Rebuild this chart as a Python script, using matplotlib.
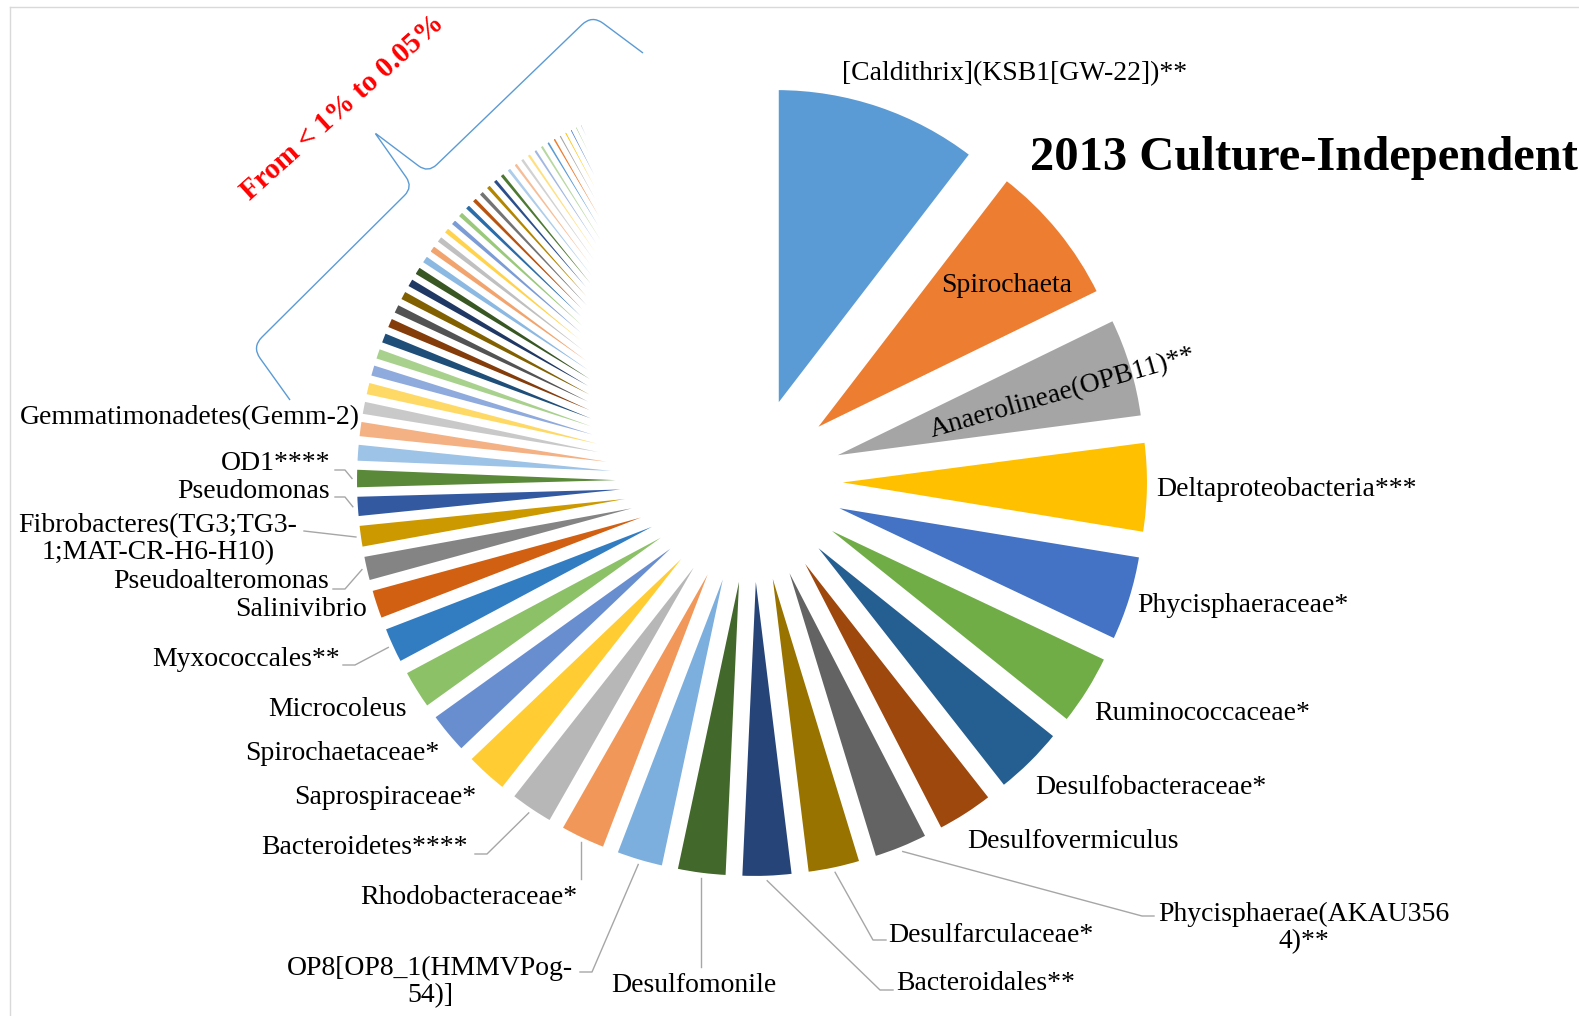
import colorsys
import matplotlib
matplotlib.use("Agg")
import matplotlib.pyplot as plt
from matplotlib.path import Path
from matplotlib.patches import PathPatch
import numpy as np

plt.rcParams['font.family'] = ['Liberation Serif', 'DejaVu Serif']

W, H = 1579, 1016

taxa = ["[Caldithrix](KSB1[GW-22])**", "Spirochaeta", "Anaerolineae(OPB11)**",
        "Deltaproteobacteria***", "Phycisphaeraceae*", "Ruminococcaceae*",
        "Desulfobacteraceae*", "Desulfovermiculus", "Phycisphaerae(AKAU356\n4)**",
        "Desulfarculaceae*", "Bacteroidales**", "Desulfomonile",
        "OP8[OP8_1(HMMVPog-\n54)]", "Rhodobacteraceae*", "Bacteroidetes****",
        "Saprospiraceae*", "Spirochaetaceae*", "Microcoleus", "Myxococcales**",
        "Salinivibrio", "Pseudoalteromonas", "Fibrobacteres(TG3;TG3-\n1;MAT-CR-H6-H10)",
        "Pseudomonas", "OD1****", "Gemmatimonadetes(Gemm-2)"]
abund = [10.42, 7.36, 5.14, 4.67, 4.44, 3.72, 3.67, 3.00, 2.86, 2.78, 2.67, 2.61, 2.50,
         2.42, 2.33, 2.28, 2.22, 2.11, 1.94, 1.61, 1.39, 1.25, 1.17, 1.08, 1.00]
# unlabelled taxa, from <1% down to 0.05%
minor = [0.92, 0.81, 0.78, 0.72, 0.69, 0.67, 0.64, 0.61, 0.60, 0.57, 0.56, 0.53, 0.50,
         0.47, 0.44, 0.43, 0.42, 0.40, 0.39, 0.39, 0.375, 0.36, 0.36, 0.35, 0.33, 0.33,
         0.32, 0.31, 0.31, 0.29, 0.28, 0.26, 0.25, 0.24, 0.22, 0.21, 0.19, 0.18, 0.17,
         0.15, 0.14, 0.125, 0.11, 0.10, 0.08, 0.07, 0.06, 0.05]
rare = 5.6  # everything below 0.05%, too thin to show

# excel 2013 palette: accents, then lumMod/lumOff variations
accents = ['#5B9BD5', '#ED7D31', '#A5A5A5', '#FFC000', '#4472C4', '#70AD47']
variations = [(1, 0), (0.6, 0), (0.8, 0.2), (0.8, 0), (0.6, 0.4), (0.5, 0),
              (0.7, 0.3), (0.7, 0), (0.5, 0.5)]


def excel_color(k):
    c = accents[k % 6]
    mod, off = variations[(k // 6) % len(variations)]
    r, g, b = [int(c[i:i + 2], 16) / 255 for i in (1, 3, 5)]
    h, l, s = colorsys.rgb_to_hls(r, g, b)
    l = min(1, l * mod + off)
    return colorsys.hls_to_rgb(h, l, s)


def Y(y):
    return H - y


values = abund + minor + [rare]
colors = [excel_color(k) for k in range(len(abund) + len(minor))] + ['none']

fig = plt.figure(figsize=(W / 100, H / 100), dpi=100)
ax = fig.add_axes([0, 0, 1, 1])

cx, cy, R, d = 752, 481, 320, 77
wedges, _ = ax.pie(values, colors=colors, explode=[d] * len(values), startangle=90,
                   counterclock=False, radius=R, center=(cx, Y(cy)),
                   wedgeprops=dict(edgecolor='white', linewidth=2.9))
ax.set_xlim(0, W)
ax.set_ylim(0, H)
ax.axis('off')

# label placement (pixel coords) and leader lines
lab_pos = [(842, 74, 'left'), (1007, 286, 'center'), (1063, 393, 'center'),
           (1156, 490, 'left'), (1137, 606, 'left'), (1094, 714, 'left'),
           (1035, 787, 'left'), (967, 842, 'left'), (1304, 928, 'center'),
           (888, 935, 'left'), (896, 984, 'left'), (694, 986, 'center'),
           (430, 982, 'center'), (577, 897, 'right'), (468, 848, 'right'),
           (476, 797, 'right'), (439, 754, 'right'), (337, 710, 'center'),
           (340, 659, 'right'), (367, 609, 'right'), (329, 582, 'right'),
           (158, 539, 'center'), (330, 491, 'right'), (330, 463, 'right'),
           (360, 418, 'right')]
# None as x means: keep the line vertical below the slice
leaders = {8: [(1142, 916), (1154, 916)], 9: [(873, 940), (886, 940)],
           10: [(880, 990), (893, 990)], 11: [(None, 967)],
           12: [(592, 972), (580, 972)], 13: [(None, 879)],
           14: [(487, 854), (475, 854)], 18: [(355, 665), (343, 665)],
           20: [(345, 589), (333, 589)], 21: [(304, 531)],
           22: [(345, 497), (335, 497)], 23: [(345, 470), (335, 470)]}

for i, name in enumerate(taxa):
    x, y, ha = lab_pos[i]
    rot = 16 if i == 2 else 0
    ax.text(x, Y(y), name, fontsize=20, ha=ha, va='center', ma='center',
            rotation=rot, rotation_mode='anchor', linespacing=1.12, color='black')
    if i in leaders:
        w = wedges[i]
        tm = np.radians((w.theta1 + w.theta2) / 2)
        sx = w.center[0] + (w.r + 3) * np.cos(tm)
        sy = w.center[1] + (w.r + 3) * np.sin(tm)
        xs = [sx] + [sx if p[0] is None else p[0] for p in leaders[i]]
        ys = [sy] + [Y(p[1]) for p in leaders[i]]
        ax.plot(xs, ys, color='#A6A6A6', lw=1.0)

ax.text(1030, Y(158), "2013 Culture-Independent", fontsize=35, fontweight='bold',
        ha='left', va='center')

# brace over the small taxa
pts = [(290, 400), (252, 347), (413, 187), (375, 133), (428, 173), (592, 15), (643, 53)]
rads = [0, 14, 12, 2, 12, 14, 0]
verts, codes = [pts[0]], [Path.MOVETO]
for j in range(1, len(pts) - 1):
    p = np.array(pts[j], float)
    a = np.array(pts[j - 1], float)
    b = np.array(pts[j + 1], float)
    pin = p + (a - p) / np.linalg.norm(a - p) * rads[j]
    pout = p + (b - p) / np.linalg.norm(b - p) * rads[j]
    verts += [tuple(pin), tuple(p), tuple(pout)]
    codes += [Path.LINETO, Path.CURVE3, Path.CURVE3]
verts.append(pts[-1])
codes.append(Path.LINETO)
verts = [(vx, Y(vy)) for vx, vy in verts]
ax.add_patch(PathPatch(Path(verts, codes), fill=False, edgecolor='#5B9BD5', lw=1.0))

ax.text(343, Y(107), "From < 1% to 0.05%", fontsize=21, fontweight='bold', color='red',
        rotation=42, ha='center', va='center', rotation_mode='anchor')

# chart area border
ax.plot([10, W], [Y(7), Y(7)], color='#D9D9D9', lw=1.0)
ax.plot([10, 10], [Y(7), 0], color='#D9D9D9', lw=1.0)

fig.savefig("out.png", dpi=100)
